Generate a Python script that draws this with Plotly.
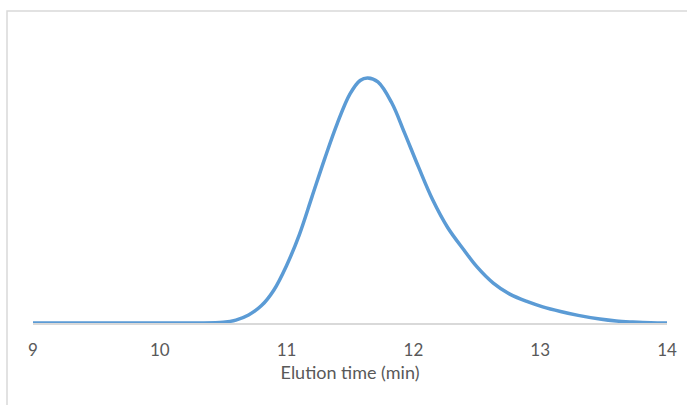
import plotly.graph_objects as go

# Elution time (min)
time_min = [9.0, 10.0, 10.3, 10.5, 10.6, 10.7, 10.8, 10.9, 11.0, 11.1,
            11.2, 11.3, 11.4, 11.5, 11.58, 11.64, 11.72, 11.83, 11.93, 12.04,
            12.15, 12.27, 12.4, 12.5, 12.63, 12.76, 12.9, 13.02, 13.16, 13.3,
            13.47, 13.6, 13.73, 13.87, 14.0]
# Detector signal (normalised)
signal = [0.0, 0.0, 0.0, 0.003, 0.012, 0.033, 0.070, 0.135, 0.235, 0.360,
          0.515, 0.670, 0.815, 0.935, 0.990, 1.000, 0.984, 0.898, 0.776, 0.637,
          0.505, 0.390, 0.297, 0.230, 0.163, 0.118, 0.087, 0.066, 0.047, 0.031,
          0.016, 0.008, 0.004, 0.001, 0.0]
x_ticks = [9, 10, 11, 12, 13, 14]

fig = go.Figure()
fig.add_trace(go.Scatter(
    x=time_min, y=signal, mode="lines",
    line=dict(color="#5b9bd5", width=3.5, shape="spline", smoothing=1.0),
    hoverinfo="skip", showlegend=False,
))

fig.update_layout(
    width=687, height=405,
    margin=dict(l=33, r=20, t=29, b=82, autoexpand=False),
    paper_bgcolor="white", plot_bgcolor="white",
    font=dict(family="Lato, Open Sans, sans-serif", color="#595959", size=17),
    xaxis=dict(
        range=[9, 14], tickvals=x_ticks, ticktext=[str(v) for v in x_ticks],
        showgrid=False, zeroline=False, showline=True, linecolor="#d9d9d9", linewidth=1.5,
        ticks="", ticklabelstandoff=11, tickfont=dict(size=17, color="#595959"),
        title=dict(text="Elution time (min)", standoff=7, font=dict(size=18, color="#595959")),
        automargin=False,
    ),
    yaxis=dict(range=[0, 1.2], visible=False, showgrid=False, zeroline=False),
    shapes=[
        dict(type="path", xref="paper", yref="paper",
             path="M -0.041,-0.3 L -0.041,1.061 L 1.04,1.061",
             line=dict(color="#d9d9d9", width=1.5)),
    ],
)

fig.write_html("out.html", config={"displayModeBar": False},
               post_script="document.body.style.margin='0px';")
